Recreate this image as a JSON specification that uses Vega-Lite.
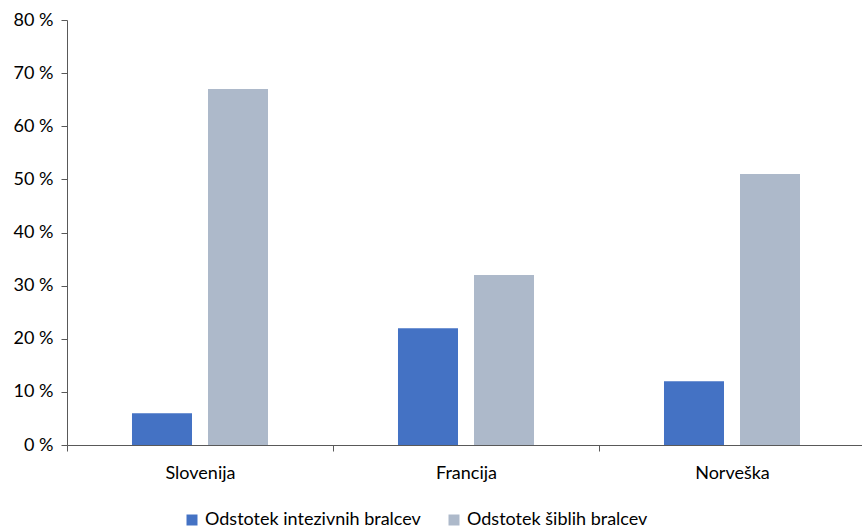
{
  "$schema": "https://vega.github.io/schema/vega-lite/v6.json",
  "autosize": {"type": "none"},
  "width": 798,
  "height": 425,
  "padding": {"left": 67, "top": 20, "right": 0, "bottom": 85},
  "background": "white",
  "data": {
    "values": [
      {"country": "Slovenija", "series": "Odstotek intezivnih bralcev", "value": 6},
      {"country": "Slovenija", "series": "Odstotek šiblih bralcev", "value": 67},
      {"country": "Francija", "series": "Odstotek intezivnih bralcev", "value": 22},
      {"country": "Francija", "series": "Odstotek šiblih bralcev", "value": 32},
      {"country": "Norveška", "series": "Odstotek intezivnih bralcev", "value": 12},
      {"country": "Norveška", "series": "Odstotek šiblih bralcev", "value": 51}
    ]
  },
  "config": {
    "view": {"stroke": null},
    "font": "Lato",
    "axis": {
      "labelFont": "Lato",
      "labelFontSize": 18,
      "labelColor": "#000000",
      "domainColor": "#595959",
      "tickColor": "#595959",
      "domainWidth": 1,
      "tickWidth": 1,
      "tickSize": 6,
      "grid": false,
      "title": null
    }
  },
  "mark": {"type": "bar"},
  "encoding": {
    "x": {
      "field": "country",
      "type": "nominal",
      "sort": ["Slovenija", "Francija", "Norveška"],
      "scale": {"paddingInner": 0, "paddingOuter": 0},
      "axis": {"labelAngle": 0, "tickBand": "extent", "labelPadding": 13}
    },
    "xOffset": {
      "field": "series",
      "type": "nominal",
      "sort": ["Odstotek intezivnih bralcev", "Odstotek šiblih bralcev"],
      "scale": {"paddingInner": 0.2105, "paddingOuter": 0.855}
    },
    "y": {
      "field": "value",
      "type": "quantitative",
      "scale": {"domain": [0, 80]},
      "axis": {
        "values": [0, 10, 20, 30, 40, 50, 60, 70, 80],
        "labelExpr": "datum.value + ' %'",
        "labelPadding": 8
      }
    },
    "color": {
      "field": "series",
      "type": "nominal",
      "sort": ["Odstotek intezivnih bralcev", "Odstotek šiblih bralcev"],
      "scale": {
        "domain": ["Odstotek intezivnih bralcev", "Odstotek šiblih bralcev"],
        "range": ["#4472C4", "#ADB9CA"]
      },
      "legend": {
        "title": null,
        "orient": "none",
        "direction": "horizontal",
        "legendX": 116,
        "legendY": 491,
        "symbolType": "square",
        "symbolSize": 121,
        "symbolStrokeWidth": 0,
        "labelFont": "Lato",
        "labelFontSize": 18,
        "labelColor": "#000000",
        "labelOffset": 4,
        "columnPadding": 24,
        "labelLimit": 400
      }
    }
  }
}
